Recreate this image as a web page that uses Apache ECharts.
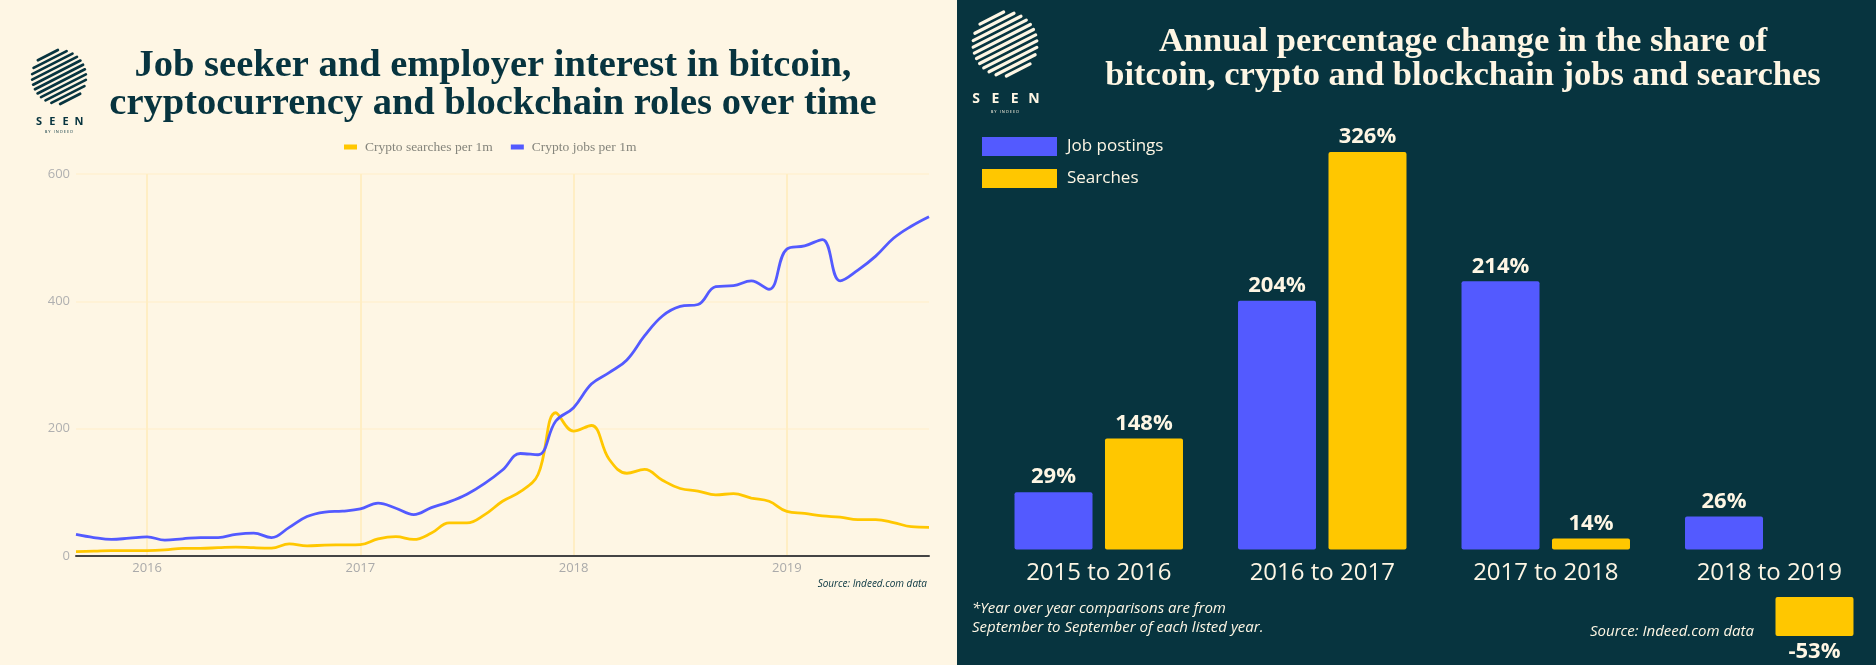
<!DOCTYPE html>
<html>
<head>
<meta charset="utf-8">
<title>Crypto jobs and searches</title>
<script src="https://cdn.jsdelivr.net/npm/echarts@6/dist/echarts.min.js"></script>
<style>
html, body { margin: 0; padding: 0; background: #fef6e4; overflow: hidden; }
.pic_left { position: absolute; left: 0; top: 0; width: 957px; height: 665px; }
.pic_right { position: absolute; left: 957px; top: 0; width: 919px; height: 665px; }
</style>
</head>
<body>
<div class="pic_left"></div>
<div class="pic_right"></div>
<script>
// left chart: monthly values per 1m, Sep 2015 to Sep 2019
var months = [
    '2015-09','2015-10','2015-11','2015-12',
    '2016-01','2016-02','2016-03','2016-04','2016-05','2016-06','2016-07','2016-08','2016-09','2016-10','2016-11','2016-12',
    '2017-01','2017-02','2017-03','2017-04','2017-05','2017-06','2017-07','2017-08','2017-09','2017-10','2017-11','2017-12',
    '2018-01','2018-02','2018-03','2018-04','2018-05','2018-06','2018-07','2018-08','2018-09','2018-10','2018-11','2018-12',
    '2019-01','2019-02','2019-03','2019-04','2019-05','2019-06','2019-07','2019-08','2019-09'
];
var cryptoSearches = [7,7.5,8.5,8.5,8.5,9.5,12,12,13,14,13,12.5,19,16,17,17.5,18,27,30.5,26,36,52,52,65,86,101,128,225,196,205,152,130,136,119,106,102,96,98,91,86,70,67,63,61,57,57,52.6,46,45];
var cryptoJobs = [34,29,26,28,30,25,27,29,29,34,36,29,45,62,69,70.5,74,83,75,65,76,85,97,114,135,161,159,212,233,270,288,308,346,377,392,395,423,424.5,432,419,482,487,497,432,449,471,499,518,533];
var yTicks = [0, 200, 400, 600];

// right chart: printed percentages
var periods = ['2015 to 2016', '2016 to 2017', '2017 to 2018', '2018 to 2019'];
var jobChangeLabels = ['29%', '204%', '214%', '26%'];
var searchChangeLabels = ['148%', '326%', '14%', '-53%'];
// the original bars are not to scale with their labels, so these are the drawn
// heights, in units of the 326% bar
var jobBarHeights = [47, 204, 220, 27];
var searchBarHeights = [91, 326, 9, -32];
// the -53% block floats below the period labels
var searchBarOffsets = [0, 0, 0, -39];

var cream = '#fef6e4';
var teal = '#07343f';
var blue = '#535aff';
var yellow = '#ffc700';
var sansFont = '"Open Sans", "Noto Sans", sans-serif';
var serifFont = '"Liberation Serif", serif';

// striped SEEN badge
function seenLogo(cx, cy, r, color, textY, letterGap, fontSize) {
    var items = [];
    var angle = -27 * Math.PI / 180;
    var step = r * 2 / 11;
    for (var d = -r + step / 2; d < r; d += step) {
        var half = Math.sqrt(r * r - d * d);
        var nx = -Math.sin(angle) * d, ny = Math.cos(angle) * d;
        items.push({
            type: 'line',
            shape: {
                x1: cx + nx - Math.cos(angle) * half,
                y1: cy + ny - Math.sin(angle) * half,
                x2: cx + nx + Math.cos(angle) * half,
                y2: cy + ny + Math.sin(angle) * half
            },
            style: { stroke: color, lineWidth: step * 0.55, lineCap: 'round' }
        });
    }
    'SEEN'.split('').forEach(function (letter, i) {
        items.push({
            type: 'text', x: cx + (i - 1.5) * letterGap, y: textY,
            style: { text: letter, fill: color, font: 'bold ' + fontSize + 'px ' + sansFont, align: 'center', verticalAlign: 'middle' }
        });
    });
    items.push({
        type: 'text', x: cx, y: textY + fontSize * 0.9,
        style: { text: 'B Y   I N D E E D', fill: color, font: '4px ' + sansFont, align: 'center', verticalAlign: 'middle' }
    });
    return items;
}

var myChart = echarts.init(document.querySelector('.pic_left'));
var option = {
    backgroundColor: cream,
    animation: false,
    title: {
        text: 'Job seeker and employer interest in bitcoin,\ncryptocurrency and blockchain roles over time',
        left: 488,
        top: 42,
        textAlign: 'center',
        textStyle: { color: teal, fontFamily: serifFont, fontWeight: 'bold', fontSize: 38.5, lineHeight: 38 }
    },
    legend: {
        data: ['Crypto searches per 1m', 'Crypto jobs per 1m'],
        left: 339,
        top: 135,
        icon: 'rect',
        itemWidth: 13,
        itemHeight: 5,
        itemGap: 18,
        textStyle: { color: '#85857c', fontFamily: serifFont, fontSize: 13.5, padding: [0, 0, 0, 3] }
    },
    grid: { left: 76, top: 174, width: 853, height: 382, outerBoundsMode: 'none' },
    xAxis: {
        type: 'category',
        data: months,
        boundaryGap: false,
        axisTick: { show: false },
        axisLine: { lineStyle: { color: '#444444', width: 2 } },
        axisLabel: {
            color: '#aaaaaa',
            fontFamily: sansFont,
            fontSize: 13,
            margin: 6,
            interval: function (index, value) { return value.slice(5) === '01'; },
            formatter: function (value) { return value.slice(0, 4); }
        },
        splitLine: {
            show: true,
            interval: function (index, value) { return value.slice(5) === '01'; },
            lineStyle: { color: '#ffeec4', width: 2 }
        }
    },
    yAxis: {
        type: 'value',
        min: yTicks[0],
        max: yTicks[yTicks.length - 1],
        interval: yTicks[1],
        axisLine: { show: false },
        axisTick: { show: false },
        axisLabel: { color: '#b0b0b0', fontFamily: sansFont, fontSize: 13, margin: 6 },
        splitLine: { lineStyle: { color: '#fff1d2', width: 1.5 } }
    },
    series: [
        {
            name: 'Crypto searches per 1m',
            type: 'line',
            data: cryptoSearches,
            smooth: 0.4,
            symbol: 'none',
            lineStyle: { color: yellow, width: 2.8 },
            itemStyle: { color: yellow }
        },
        {
            name: 'Crypto jobs per 1m',
            type: 'line',
            data: cryptoJobs,
            smooth: 0.4,
            symbol: 'none',
            lineStyle: { color: blue, width: 2.8 },
            itemStyle: { color: blue }
        }
    ],
    graphic: seenLogo(59, 77, 27, teal, 122, 13.3, 11).concat([
        {
            type: 'text', x: 927, y: 584,
            style: { text: 'Source: Indeed.com data', fill: teal, font: 'italic 10px ' + sansFont, align: 'right', verticalAlign: 'middle' }
        }
    ])
};
myChart.setOption(option);

var myChart1 = echarts.init(document.querySelector('.pic_right'));
var barLabel = { show: true, color: cream, fontFamily: sansFont, fontWeight: 'bold', fontSize: 22, distance: 4 };
var option1 = {
    backgroundColor: teal,
    animation: false,
    title: {
        text: 'Annual percentage change in the share of\nbitcoin, crypto and blockchain jobs and searches',
        left: 501,
        top: 20,
        textAlign: 'center',
        textStyle: { color: cream, fontFamily: serifFont, fontWeight: 'bold', fontSize: 34.5, lineHeight: 34 }
    },
    legend: {
        data: ['Job postings', 'Searches'],
        orient: 'vertical',
        left: 20,
        top: 132,
        icon: 'rect',
        itemWidth: 75,
        itemHeight: 19,
        itemGap: 13,
        textStyle: { color: cream, fontFamily: sansFont, fontSize: 17, padding: [0, 0, 0, 5] }
    },
    grid: { left: 30, top: 135, width: 894, height: 512, outerBoundsMode: 'none' },
    xAxis: {
        type: 'category',
        data: periods,
        axisLine: { show: false },
        axisTick: { show: false },
        // labels sit just under the zero line, the grid runs on for the floating block
        axisLabel: { color: cream, fontFamily: sansFont, fontSize: 24, margin: -86 }
    },
    yAxis: {
        type: 'value',
        min: -80,
        max: 340,
        axisLine: { show: false },
        axisTick: { show: false },
        axisLabel: { show: false },
        splitLine: { show: false }
    },
    series: [
        {
            name: 'Job postings',
            type: 'bar',
            stack: 'jobs',
            data: jobBarHeights,
            barWidth: 78,
            barGap: '16%',
            itemStyle: { color: blue, borderRadius: 2 },
            label: Object.assign({}, barLabel, {
                position: 'top',
                formatter: function (p) { return jobChangeLabels[p.dataIndex]; }
            })
        },
        {
            name: 'offset',
            type: 'bar',
            stack: 'searches',
            data: searchBarOffsets,
            barWidth: 78,
            itemStyle: { color: 'transparent' }
        },
        {
            name: 'Searches',
            type: 'bar',
            stack: 'searches',
            data: searchBarHeights,
            barWidth: 78,
            itemStyle: { color: yellow, borderRadius: 2 },
            label: Object.assign({}, barLabel, {
                position: 'top',
                formatter: function (p) { return searchChangeLabels[p.dataIndex]; }
            }),
            labelLayout: function (p) {
                // the negative block carries its label underneath
                if (p.dataIndex === 3) {
                    return { y: p.rect.y + p.rect.height + 16, align: 'center', verticalAlign: 'middle' };
                }
            }
        }
    ],
    graphic: seenLogo(48, 44, 32, cream, 99, 19.3, 14).concat([
        {
            type: 'text', x: 15, y: 609,
            style: { text: '*Year over year comparisons are from', fill: cream, font: 'italic 15px ' + sansFont, verticalAlign: 'middle' }
        },
        {
            type: 'text', x: 15, y: 628,
            style: { text: 'September to September of each listed year.', fill: cream, font: 'italic 15px ' + sansFont, verticalAlign: 'middle' }
        },
        {
            type: 'text', x: 633, y: 632,
            style: { text: 'Source: Indeed.com data', fill: cream, font: 'italic 15px ' + sansFont, verticalAlign: 'middle' }
        }
    ])
};
myChart1.setOption(option1);
</script>
</body>
</html>
